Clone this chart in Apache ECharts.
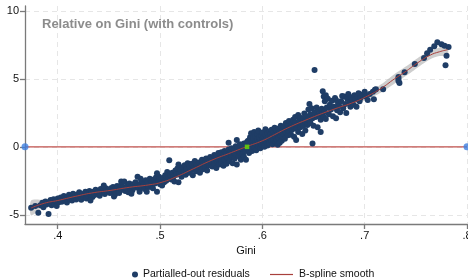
<!DOCTYPE html>
<html>
<head>
<meta charset="utf-8">
<script src="https://cdn.jsdelivr.net/npm/echarts@6/dist/echarts.min.js"></script>
<style>
  html, body { margin: 0; padding: 0; background: #fff; }
  #chart { width: 468px; height: 278px; }
</style>
</head>
<body>
<div id="chart"></div>
<script>
// partialled-out residuals [gini, residual]
const residuals = [
  [0.374,-4.48],[0.378,-4.35],[0.381,-4.85],[0.383,-4.30],[0.385,-4.12],[0.386,-4.45],[0.388,-4.02],[0.389,-4.25],[0.391,-4.95],[0.392,-4.10],
  [0.393,-3.92],[0.394,-4.30],[0.395,-4.05],[0.396,-3.85],[0.397,-4.18],[0.398,-3.98],[0.399,-4.35],[0.400,-3.80],[0.401,-4.08],[0.402,-3.90],
  [0.403,-3.72],[0.404,-4.05],[0.405,-3.88],[0.406,-3.62],[0.407,-3.95],[0.408,-3.80],[0.409,-4.10],[0.410,-3.70],[0.411,-3.52],[0.412,-3.85],
  [0.413,-3.65],[0.414,-3.95],[0.415,-3.45],[0.416,-3.78],[0.417,-3.60],[0.418,-3.88],[0.419,-3.50],[0.420,-3.72],[0.421,-3.35],[0.422,-3.62],
  [0.423,-3.90],[0.424,-3.48],[0.425,-3.70],[0.426,-3.55],[0.427,-3.30],[0.428,-3.80],[0.429,-3.45],[0.430,-3.62],[0.431,-3.25],[0.432,-3.50],
  [0.433,-3.38],[0.434,-3.70],[0.435,-3.30],[0.436,-3.55],[0.437,-3.15],[0.438,-3.42],[0.440,-3.28],[0.441,-3.60],[0.442,-3.10],[0.443,-3.35],
  [0.445,-3.20],[0.446,-3.48],[0.447,-3.05],[0.448,-3.30],[0.450,-3.15],[0.451,-3.40],[0.432,-3.95],[0.445,-2.85],[0.455,-3.65],[0.462,-2.55],
  [0.452,-3.05],[0.453,-3.35],[0.454,-2.95],[0.455,-3.22],[0.456,-3.50],[0.457,-3.10],[0.458,-2.88],[0.459,-3.28],[0.460,-3.40],[0.461,-3.00],
  [0.462,-2.80],[0.463,-3.15],[0.464,-2.95],[0.465,-2.55],[0.466,-3.25],[0.467,-3.05],[0.468,-2.85],[0.469,-3.35],[0.470,-2.70],[0.471,-3.10],
  [0.472,-2.90],[0.473,-3.20],[0.474,-2.75],[0.475,-3.00],[0.476,-2.60],[0.477,-2.88],[0.478,-2.20],[0.479,-3.05],[0.480,-3.30],[0.481,-2.70],
  [0.482,-2.95],[0.483,-2.55],[0.484,-2.82],[0.485,-3.10],[0.486,-2.45],[0.487,-2.75],[0.488,-2.60],[0.489,-2.95],[0.490,-2.35],[0.491,-2.80],
  [0.492,-2.55],[0.493,-3.05],[0.494,-2.40],[0.495,-2.70],[0.496,-2.25],[0.497,-3.30],[0.498,-2.55],[0.499,-2.20],[0.500,-2.75],
  [0.472,-3.45],[0.487,-3.30],[0.497,-1.95],[0.481,-2.35],
  [0.501,-2.45],[0.502,-2.85],[0.503,-2.30],[0.504,-2.60],[0.505,-2.10],[0.506,-2.50],[0.507,-1.85],[0.508,-2.30],[0.509,-0.98],[0.510,-2.05],
  [0.511,-2.40],[0.512,-1.90],[0.513,-2.20],[0.514,-2.55],[0.515,-1.75],[0.516,-2.05],[0.517,-1.60],[0.518,-2.60],[0.518,-1.30],[0.519,-1.95],
  [0.520,-1.70],[0.521,-2.20],[0.522,-1.50],[0.523,-1.85],[0.524,-1.35],[0.525,-2.05],[0.526,-1.65],[0.527,-1.20],[0.528,-1.90],[0.529,-1.45],
  [0.530,-1.75],[0.531,-1.25],[0.532,-2.10],[0.533,-1.55],[0.534,-1.05],[0.535,-1.80],[0.536,-1.35],[0.537,-1.60],[0.538,-1.15],[0.539,-1.90],
  [0.540,-1.40],[0.541,-0.95],[0.542,-1.65],[0.543,-1.25],[0.544,-1.50],[0.545,-0.85],[0.546,-1.75],[0.547,-1.10],[0.548,-1.35],[0.549,-0.75],
  [0.550,-1.20],
  [0.551,-0.85],[0.551,-1.45],[0.552,-1.00],[0.553,-0.60],[0.553,-1.25],[0.554,-0.90],[0.555,-1.55],[0.555,-0.70],[0.556,-1.10],[0.557,-0.45],
  [0.557,-0.95],[0.558,-1.30],[0.559,-0.65],[0.559,-0.85],[0.560,-0.40],[0.560,-1.15],[0.561,-0.75],[0.562,-0.55],[0.562,-1.40],[0.563,-0.30],
  [0.563,-0.95],[0.564,-0.65],[0.565,-1.25],[0.565,-0.45],[0.566,-0.80],[0.567,0.30],[0.567,-0.20],[0.568,-1.05],[0.568,-0.55],[0.569,-0.35],
  [0.570,-0.70],[0.570,-0.10],[0.571,-1.20],[0.572,-0.45],[0.572,-0.25],[0.573,-0.85],[0.574,0.05],[0.574,-0.55],[0.575,0.50],[0.575,-1.30],
  [0.576,-0.35],[0.576,-0.05],[0.577,-0.70],[0.578,0.20],[0.578,-0.40],[0.579,-0.95],[0.580,-0.15],[0.580,0.10],[0.581,-0.55],[0.582,-0.75],
  [0.582,0.25],[0.583,-0.30],[0.584,0.05],[0.584,-0.95],[0.585,0.35],
  [0.586,-0.20],[0.586,0.45],[0.587,0.10],[0.587,-0.45],[0.588,0.70],[0.588,0.25],[0.589,-0.10],[0.589,1.00],[0.590,0.40],[0.590,-0.30],
  [0.591,0.15],[0.591,0.65],[0.592,-0.05],[0.592,1.10],[0.593,0.35],[0.593,0.80],[0.594,-0.25],[0.594,0.20],[0.595,0.55],[0.595,0.95],
  [0.596,1.20],[0.596,0.05],[0.597,0.40],[0.597,0.70],[0.598,-0.10],[0.598,0.30],[0.599,0.85],[0.599,0.15],[0.600,0.55],[0.600,1.05],
  [0.601,0.25],[0.601,0.70],[0.602,0.00],[0.602,0.45],[0.603,0.90],[0.603,1.30],[0.604,0.35],[0.604,0.60],[0.605,0.10],[0.605,1.00],
  [0.606,0.50],[0.606,0.75],[0.607,0.25],[0.607,1.15],[0.608,0.60],[0.608,0.95],[0.609,1.25],[0.609,0.40],[0.610,0.80],[0.610,0.20],
  [0.611,1.05],[0.611,0.55],[0.612,1.40],[0.612,0.90],[0.613,0.35],[0.613,0.70],[0.614,1.20],[0.614,0.50],[0.615,0.15],[0.615,0.95],
  [0.616,1.35],[0.616,0.65],[0.617,0.30],[0.617,1.10],[0.618,0.80],[0.618,1.55],[0.619,0.45],[0.619,1.00],[0.620,1.25],[0.620,0.70],
  [0.621,0.95],[0.621,1.50],[0.622,1.20],[0.622,0.60],[0.623,1.75],[0.623,1.05],[0.624,1.35],[0.625,0.85],[0.625,1.60],[0.626,1.15],
  [0.626,1.90],[0.627,1.40],[0.628,0.90],[0.628,1.65],[0.629,1.25],[0.630,2.00],[0.630,1.50],[0.631,0.75],[0.632,1.80],[0.632,2.20],
  [0.633,1.35],[0.633,0.50],[0.634,1.60],[0.635,2.35],[0.635,1.10],[0.636,1.95],[0.637,1.45],[0.637,2.15],[0.638,1.70],[0.639,0.95],
  [0.640,2.05],[0.640,1.55],[0.641,2.45],[0.642,1.85],[0.642,1.20],[0.643,2.25],[0.644,1.60],[0.645,2.75],[0.645,2.00],[0.646,3.15],
  [0.647,1.75],[0.647,2.40],[0.648,2.85],[0.649,0.25],[0.649,2.10],[0.650,1.55],[0.651,5.65],[0.651,2.55],[0.652,2.20],[0.653,2.90],
  [0.654,1.45],[0.655,2.35],[0.656,2.65],[0.657,1.10],[0.657,2.00],[0.658,2.80],[0.659,4.10],[0.659,2.45],[0.660,3.70],[0.660,2.20],
  [0.661,2.60],[0.661,3.35],[0.662,3.80],[0.662,2.05],[0.663,2.90],[0.664,3.55],[0.665,2.40],[0.666,3.10],[0.667,2.75],[0.668,3.40],
  [0.669,2.25],[0.670,2.95],[0.671,3.60],[0.672,2.10],[0.672,3.45],[0.673,2.70],[0.674,3.20],[0.675,3.00],[0.676,2.55],[0.677,3.35],
  [0.678,3.75],[0.679,2.85],[0.680,3.70],[0.681,3.15],[0.682,2.50],[0.683,3.55],[0.684,3.90],[0.685,3.30],[0.686,2.95],[0.687,3.65],
  [0.688,3.45],[0.689,3.10],[0.690,3.80],[0.691,3.50],[0.692,2.95],[0.693,3.70],[0.694,3.95],[0.695,3.35],[0.696,3.60],[0.698,3.85],
  [0.700,4.05],[0.701,3.70],
  [0.703,3.45],[0.705,3.90],[0.708,4.05],[0.709,3.50],[0.710,4.20],[0.711,4.25],[0.718,4.25],[0.733,5.15],[0.733,5.00],[0.733,4.85],
  [0.734,4.70],[0.739,5.50],[0.749,6.10],[0.758,6.55],[0.761,6.90],[0.764,7.15],[0.768,7.40],[0.771,7.70],[0.775,7.55],[0.778,7.45],
  [0.782,7.35],[0.780,6.70],[0.779,6.00]
]

// B-spline smooth and its confidence band
const smoothGini = [0.374,0.387,0.400,0.417,0.433,0.452,0.470,0.489,0.502,0.516,0.533,0.550,0.567,0.584,0.600,0.612,0.625,0.645,0.660,0.671,0.690,0.703,0.716,0.729,0.741,0.752,0.764,0.773,0.781]
const smoothFit  = [-4.5,-4.15,-3.95,-3.65,-3.4,-3.2,-2.98,-2.8,-2.6,-2.2,-1.6,-1.0,-0.5,0.0,0.45,0.9,1.4,2.05,2.5,2.8,3.3,3.75,4.3,5.0,5.6,6.2,6.75,7.0,7.15]
const bandLo     = [-5.05,-4.4,-4.1,-3.8,-3.6,-3.45,-3.16,-2.95,-2.72,-2.3,-1.7,-1.1,-0.58,-0.08,0.37,0.8,1.3,1.93,2.38,2.65,3.1,3.5,4.0,4.65,5.25,5.85,6.45,6.68,6.7]
const bandHi     = [-3.95,-3.9,-3.8,-3.5,-3.2,-2.95,-2.8,-2.65,-2.48,-2.1,-1.5,-0.9,-0.42,0.08,0.53,1.0,1.5,2.17,2.62,2.95,3.5,4.0,4.6,5.35,5.95,6.55,7.05,7.32,7.6]

// reference line y = 0, its end markers and the highlighted point
const zeroLine = [[0.368, 0], [0.8, 0]]
const highlight = [[0.585, 0]]

const xTicks = [0.4, 0.5, 0.6, 0.7, 0.8]
const yTicks = [-5, 0, 5, 10]

const FONT = '"Liberation Sans", Arial, sans-serif'
const chart = echarts.init(document.getElementById('chart'))

const axisCommon = {
  axisLine: { onZero: false, lineStyle: { color: '#7a7a7a', width: 1.3 } },
  axisTick: { length: 5, lineStyle: { color: '#7a7a7a', width: 1.3 } },
  splitLine: { show: true, lineStyle: { color: '#e6e6e6', width: 1, type: [5, 4] } }
}

// band polygon: lower edge forward, upper edge backward
function renderBand(params, api) {
  if (params.dataIndex !== 0) return
  const pts = []
  smoothGini.forEach((g, i) => pts.push(api.coord([g, bandLo[i]])))
  for (let i = smoothGini.length - 1; i >= 0; i--) pts.push(api.coord([smoothGini[i], bandHi[i]]))
  return {
    type: 'polygon',
    shape: { points: pts, smooth: 0.25 },
    style: { fill: 'rgba(165,165,165,0.55)' },
    silent: true
  }
}

chart.setOption({
  animation: false,
  backgroundColor: '#fff',
  title: {
    text: 'Relative on Gini (with controls)',
    left: 37, top: 13,
    textStyle: { fontFamily: FONT, fontSize: 13, fontWeight: 'bold', color: '#8c8c8c' }
  },
  legend: [
    {
      data: [{ name: 'Partialled-out residuals', icon: 'circle' }],
      left: 127, top: 264, itemWidth: 6, itemHeight: 6, itemGap: 5,
      textStyle: { fontFamily: FONT, fontSize: 10.5, color: '#111' }
    },
    {
      data: [{ name: 'B-spline smooth', icon: 'rect', itemStyle: { color: '#a8403c' } }],
      left: 265, top: 264, itemWidth: 23, itemHeight: 1.2,
      textStyle: { fontFamily: FONT, fontSize: 10.5, color: '#111', padding: [0, 0, 0, 1] }
    }
  ],
  grid: { left: 25, right: 1, top: 6, bottom: 54, outerBoundsMode: 'none' },
  xAxis: {
    type: 'value', min: 0.368, max: 0.8,
    name: 'Gini', nameLocation: 'middle', nameGap: 19,
    nameTextStyle: { fontFamily: FONT, fontSize: 11, color: '#111' },
    ...axisCommon,
    axisTick: { ...axisCommon.axisTick, customValues: xTicks },
    axisLabel: {
      customValues: xTicks, margin: 6, fontFamily: FONT, fontSize: 11, color: '#111',
      formatter: v => String(+v.toFixed(1)).replace(/^0/, '')
    }
  },
  yAxis: {
    type: 'value', min: -5.68, max: 10.37,
    ...axisCommon,
    axisTick: { ...axisCommon.axisTick, customValues: yTicks },
    axisLabel: { customValues: yTicks, margin: 6, fontFamily: FONT, fontSize: 11, color: '#111' }
  },
  series: [
    {
      name: 'band', type: 'custom', renderItem: renderBand, silent: true, z: 1,
      data: smoothGini.map((g, i) => [g, smoothFit[i]])
    },
    {
      name: 'zero', type: 'line', symbol: 'none', silent: true, z: 2,
      lineStyle: { color: '#c0504d', width: 1.3 },
      data: zeroLine
    },
    {
      name: 'Partialled-out residuals', type: 'scatter', symbolSize: 6, z: 3,
      itemStyle: { color: '#1f3d66', opacity: 1 },
      data: residuals
    },
    {
      name: 'B-spline smooth', type: 'line', smooth: true, symbol: 'none', z: 4,
      lineStyle: { color: '#a8403c', width: 1 },
      itemStyle: { color: '#a8403c' },
      data: smoothGini.map((g, i) => [g, smoothFit[i]])
    },
    {
      name: 'zero-ends', type: 'scatter', symbolSize: 7, clip: false, z: 5, silent: true,
      itemStyle: { color: '#3d7fe0' },
      data: zeroLine
    },
    {
      name: 'highlight', type: 'scatter', symbol: 'rect', symbolSize: 4.5, z: 6, silent: true,
      itemStyle: { color: '#66e000' },
      data: highlight
    }
  ]
})
</script>
</body>
</html>
